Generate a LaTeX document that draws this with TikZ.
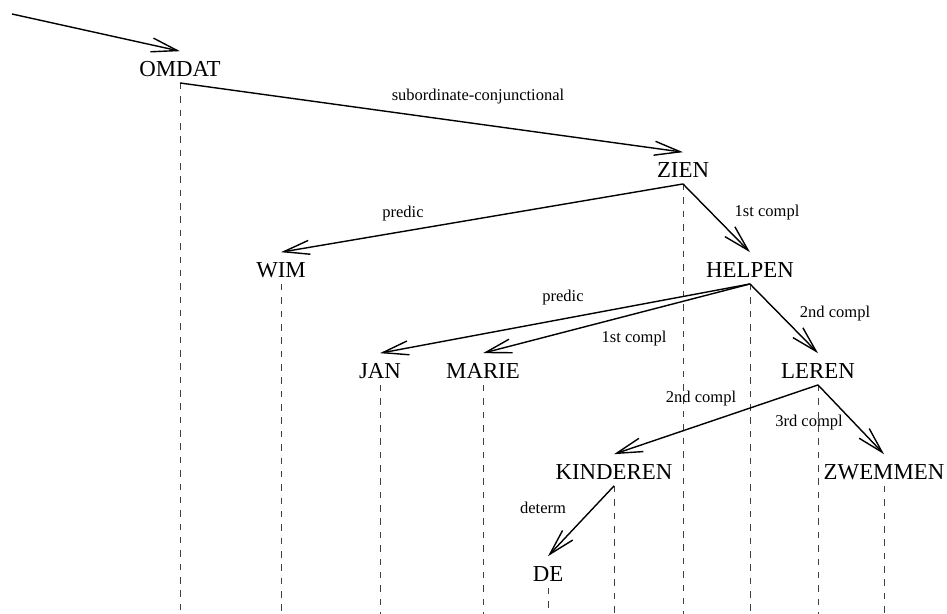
\documentclass[tikz,border=0pt]{standalone}
\usepackage{fontspec}
\setmainfont{Liberation Serif}
\usetikzlibrary{arrows.meta}

\tikzset{
  word/.style={anchor=base, inner sep=0pt, text height=14.5pt, text depth=3.2pt,
    font=\fontsize{13}{15}\selectfont},
  lab/.style={inner sep=0pt, font=\fontsize{9.4}{11}\selectfont},
  dep/.style={line width=0.8pt, -{Straight Barb[length=5.2mm, width=2.8mm, line width=0.8pt]}},
  lifeline/.style={line width=0.5pt, black!75, dash pattern=on 3.7pt off 3.9pt}
}

\begin{document}
\begin{tikzpicture}[x=0.02cm, y=-0.02cm]
			%%%%% START %%%%%
			
			\useasboundingbox (0,0) rectangle (947,614);
			\coordinate (start) at (12,14);
			\coordinate (bottom) at (0,614);
			
			% words
			\node[word] (omdat) at (180,77) {OMDAT};
			\node[word] (zien) at (683,178) {ZIEN};
			\node[word] (wim) at (281,278) {WIM};
			\node[word] (helpen) at (750,278) {HELPEN};
			\node[word] (jan) at (380,379) {JAN};
			\node[word] (marie) at (483,379) {MARIE};
			\node[word] (leren) at (818,379) {LEREN};
			\node[word] (kinderen) at (614,480) {KINDEREN};
			\node[word] (zwemmen) at (884,480) {ZWEMMEN};
			\node[word] (de) at (548,582) {DE};
			
			% lifelines
			\foreach \w in {omdat,zien,wim,helpen,jan,marie,leren,kinderen,zwemmen,de}
				\draw[lifeline] (\w.south) -- (\w.south |- bottom);
			
			% dependencies
			\draw[dep] (start) -- (omdat.north);
			\draw[dep] (omdat.south) -- (zien.north);
			\draw[dep] (zien.south) -- (wim.north);
			\draw[dep] (zien.south) -- (helpen.north);
			\draw[dep] (helpen.south) -- (jan.north);
			\draw[dep] (helpen.south) -- (marie.north);
			\draw[dep] (helpen.south) -- (leren.north);
			\draw[dep] (leren.south) -- (kinderen.north);
			\draw[dep] (leren.south) -- (zwemmen.north);
			\draw[dep] (kinderen.south) -- (de.north);
			
			% labels
			\node[lab] (subconj) at (478,97) {subordinate-conjunctional};
			\node[lab] (predzien) at (403,214) {predic};
			\node[lab] (firstzien) at (767,213) {1st compl};
			\node[lab] (predhelpen) at (563,298) {predic};
			\node[lab] (firsthelpen) at (634,339) {1st compl};
			\node[lab] (secondhelpen) at (835,314) {2nd compl};
			\node[lab] (secondleren) at (701,399) {2nd compl};
			\node[lab] (thirdleren) at (809,423) {3rd compl};
			\node[lab] (determ) at (543,508) {determ};
			
			%%%%% END %%%%%
\end{tikzpicture}
\end{document}
